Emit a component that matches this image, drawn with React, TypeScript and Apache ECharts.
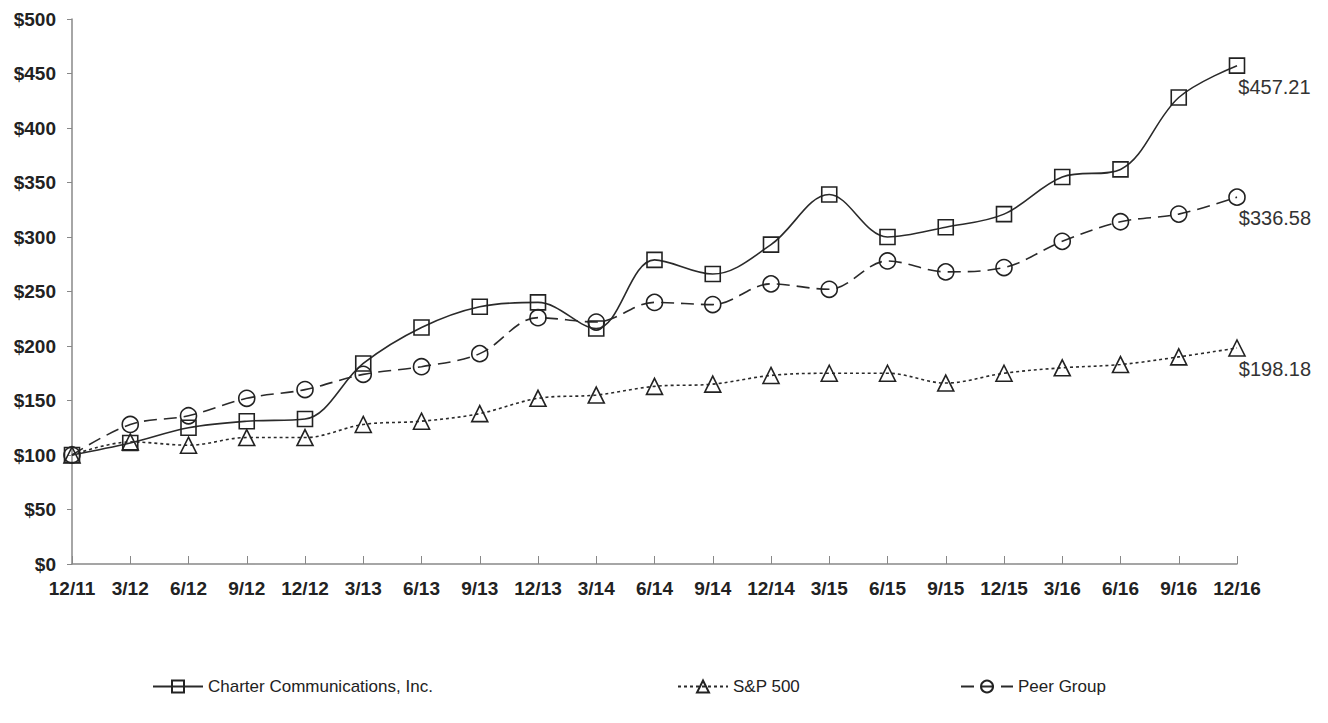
import React, { useEffect, useRef } from "react";
import * as echarts from "echarts";

const categories = ["12/11","3/12","6/12","9/12","12/12","3/13","6/13","9/13","12/13","3/14","6/14","9/14","12/14","3/15","6/15","9/15","12/15","3/16","6/16","9/16","12/16"];
const charter = [100,111,125,131,133,184,217,236,240,216,279,266,293,339,300,309,321,355,362,428,457.21];
const sp500 = [100,112,109,116,116,128,131,138,152,155,163,165,173,175,175,166,175,180,183,190,198.18];
const peer = [100,128,136,152,160,174,181,193,226,222,240,238,257,252,278,268,272,296,314,321,336.58];
const seriesNames = ["Charter Communications, Inc.", "S&P 500", "Peer Group"];
const endLabels = ["$457.21", "$198.18", "$336.58"];
const yTicks = { min: 0, max: 500, interval: 50 };

const FONT = "'Liberation Sans', Arial, sans-serif";

function withEndLabel(values: number[], text: string) {
  return values.map((v, i) =>
    i === values.length - 1
      ? {
          value: v,
          label: {
            show: true,
            formatter: text,
            position: "right",
            offset: [-12, 21],
            fontFamily: FONT,
            fontSize: 20,
            color: "#333",
          },
        }
      : v
  );
}

export default function App() {
  const ref = useRef<HTMLDivElement>(null);
  useEffect(() => {
    if (!ref.current) return;
    const chart = echarts.init(ref.current, null, { renderer: "svg" });
    const markerStyle = { color: "rgba(255,255,255,0)", borderColor: "#222", borderWidth: 1.6 };
    const legendText = { fontFamily: FONT, fontSize: 17, color: "#222" };
    chart.setOption({
      animation: false,
      backgroundColor: "#fff",
      grid: { left: 72, right: 91, top: 19, bottom: 159, containLabel: false },
      legend: [
        { data: [seriesNames[0]], left: 147, top: 673, itemWidth: 50, itemHeight: 15, textStyle: legendText },
        { data: [seriesNames[1]], left: 672, top: 673, itemWidth: 50, itemHeight: 15, textStyle: legendText },
        { data: [seriesNames[2]], left: 955, top: 673, itemWidth: 52, itemHeight: 15, textStyle: legendText },
      ],
      xAxis: {
        type: "category",
        data: categories,
        boundaryGap: false,
        axisLine: { lineStyle: { color: "#888", width: 1.5 } },
        axisTick: { show: true, inside: true, length: 8, lineStyle: { color: "#888" } },
        axisLabel: { fontFamily: FONT, fontWeight: "bold", fontSize: 19, color: "#222", margin: 15, interval: 0 },
        splitLine: { show: false },
      },
      yAxis: {
        type: "value",
        min: yTicks.min,
        max: yTicks.max,
        interval: yTicks.interval,
        axisLine: { show: true, lineStyle: { color: "#888", width: 1.5 } },
        axisTick: { show: true, length: 5, lineStyle: { color: "#888" } },
        axisLabel: {
          fontFamily: FONT,
          fontWeight: "bold",
          fontSize: 19,
          color: "#222",
          margin: 16,
          formatter: (v: number) => "$" + v,
        },
        splitLine: { show: false },
      },
      series: [
        {
          name: seriesNames[0],
          type: "line",
          data: withEndLabel(charter, endLabels[0]),
          smooth: 0.35,
          symbol: "rect",
          symbolSize: 15,
          lineStyle: { color: "#2a2a2a", width: 1.6, type: "solid" },
          itemStyle: markerStyle,
          z: 3,
        },
        {
          name: seriesNames[1],
          type: "line",
          data: withEndLabel(sp500, endLabels[1]),
          smooth: 0.35,
          symbol: "triangle",
          symbolSize: 16,
          lineStyle: { color: "#2a2a2a", width: 1.6, type: [3, 3] },
          itemStyle: markerStyle,
          z: 2,
        },
        {
          name: seriesNames[2],
          type: "line",
          data: withEndLabel(peer, endLabels[2]),
          smooth: 0.35,
          symbol: "circle",
          symbolSize: 16,
          lineStyle: { color: "#2a2a2a", width: 1.6, type: [13, 7] },
          itemStyle: markerStyle,
          z: 2,
        },
      ],
    });
    return () => chart.dispose();
  }, []);
  return (
    <div
      ref={ref}
      style={{ position: "absolute", left: 0, top: 0, width: 1328, height: 723, background: "#fff" }}
    />
  );
}
